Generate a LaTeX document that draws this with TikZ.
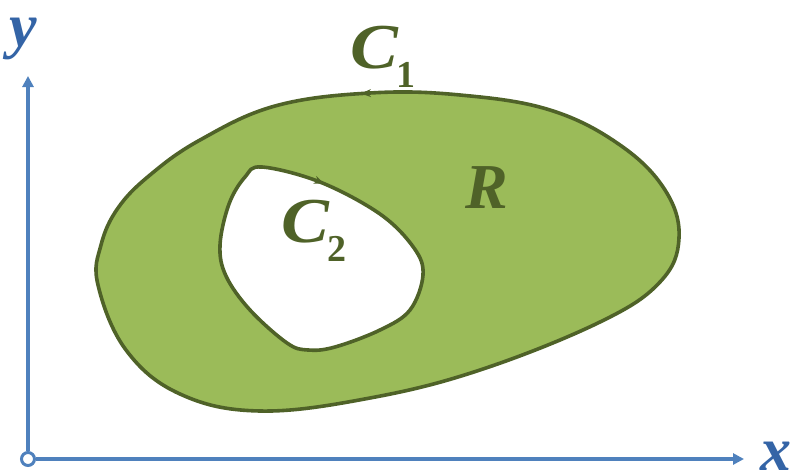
\documentclass[tikz,border=0pt]{standalone}
\usepackage{fontspec}
\newfontfamily\lblfont{Liberation Serif}
\newfontfamily\lblwide{Liberation Serif}[FakeStretch=1.12]
\usetikzlibrary{arrows.meta}
\definecolor{fillgreen}{HTML}{9BBB59}
\definecolor{edgegreen}{HTML}{4F6228}
\definecolor{axisblue}{HTML}{4F81BD}
\definecolor{labelblue}{HTML}{3464A6}
\newcommand{\lblsub}[1]{\raisebox{-0.3em}{\lblfont\fontsize{38}{38}\selectfont\upshape #1}}
\tikzset{
  axisline/.style={draw=axisblue, line width=3.4pt, -{Triangle[length=11pt,width=11pt]}},
  region/.style={fill=fillgreen, draw=edgegreen, line width=3.6pt, even odd rule},
  dirtip/.style={draw=edgegreen, line width=1.2pt, -{Stealth[length=10pt,width=8pt]}},
  greenlbl/.style={text=edgegreen, inner sep=0pt, anchor=base west, font=\lblfont\fontsize{64}{64}\selectfont\itshape},
  bluelbl/.style={text=labelblue, inner sep=0pt, anchor=base west, text height=0.47em, font=\lblfont\fontsize{62}{62}\selectfont\bfseries\itshape},
}
\begin{document}
\begin{tikzpicture}[x=1pt,y=-1pt]
\useasboundingbox (0,0) rectangle (793,474);
% region with hole
\path[region]
  plot[smooth cycle, tension=0.65] coordinates {
    (98,285) (101,245) (118,208) (150,175) (200,140) (275,106) (370,93) (460,95)
    (550,110) (620,145) (665,190) (679,238) (660,282) (600,322)
    (480,370) (370,398) (260,411) (180,394) (126,350)}
  plot[smooth cycle, tension=0.6] coordinates {
    (262,167) (320,182) (380,214) (414,248) (423,275) (410,310) (380,330)
    (335,347) (308,350) (287,343) (250,310) (226,276) (220,245) (229,204) (245,177)};
% direction tips
\coordinate (t1a) at (375,93);
\coordinate (t1b) at (361,93.4);
\draw[dirtip] (t1a) -- (t1b);
\coordinate (t2a) at (310,177.8);
\coordinate (t2b) at (324,183.6);
\draw[dirtip] (t2a) -- (t2b);
% axes
\node[circle, draw=axisblue, fill=white, line width=3pt, minimum size=13pt, inner sep=0pt] (O) at (28,459) {};
\coordinate (xend) at (744,459);
\coordinate (yend) at (28,76);
\draw[axisline] (O.east) -- (xend);
\draw[axisline] (O.north) -- (yend);
% labels
\node[bluelbl, text depth=0pt] (xl) at (760,470) {x};
\node[bluelbl, text depth=0.22em] (yl) at (9,46) {y};
\node[greenlbl] (c1) at (350,68) {\lblwide\bfseries\itshape C\kern-0.03em\lblsub{1}};
\node[greenlbl] (c2) at (281,242) {\lblwide\bfseries\itshape C\kern-0.03em\lblsub{2}};
\node[greenlbl] (r) at (465,208) {\bfseries R};
\end{tikzpicture}
\end{document}
